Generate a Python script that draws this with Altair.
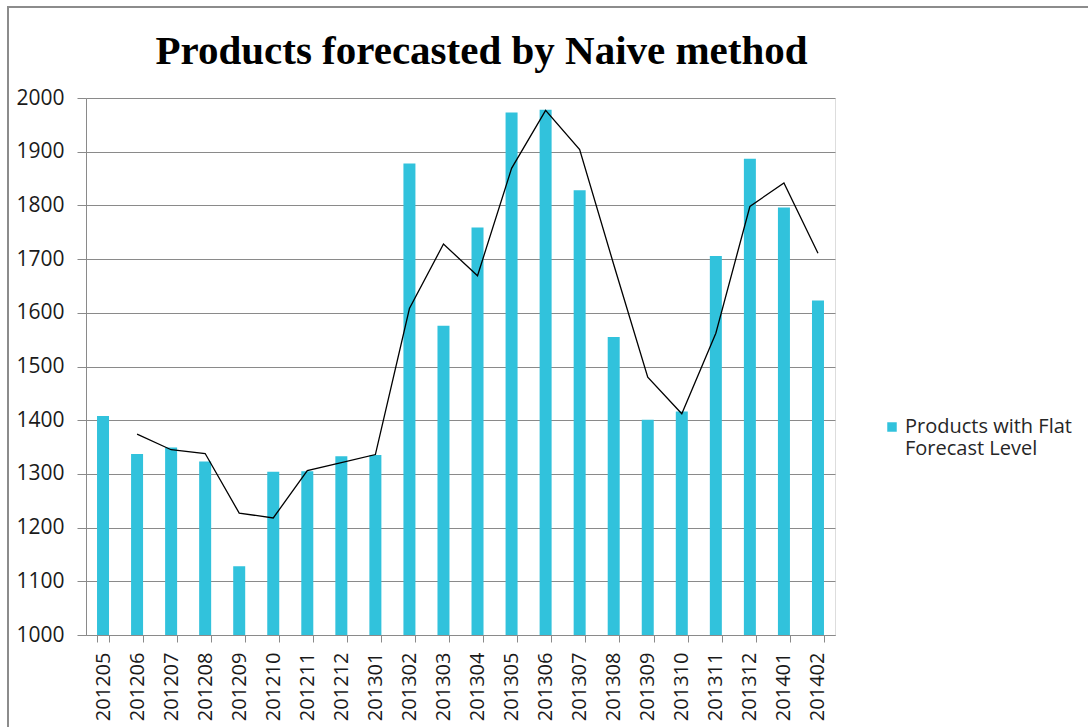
import altair as alt
import pandas as pd

# Monthly periods (YYYYMM)
periods = [
    "201205", "201206", "201207", "201208", "201209", "201210", "201211",
    "201212", "201301", "201302", "201303", "201304", "201305", "201306",
    "201307", "201308", "201309", "201310", "201311", "201312", "201401",
    "201402",
]

# Number of products with a flat forecast level per period
flat_products = [
    1408, 1337, 1349, 1323, 1128, 1304, 1305, 1333, 1335, 1878, 1576,
    1759, 1973, 1978, 1828, 1555, 1401, 1416, 1706, 1887, 1796, 1623,
]

# Two-period moving-average trend line (no value for the first period)
trend = [
    None, 1374, 1345, 1338, 1227, 1218, 1306, 1321, 1336, 1608, 1728,
    1669, 1869, 1977, 1904, 1690, 1480, 1412, 1562, 1798, 1842, 1711,
]

series_name = "Products with Flat Forecast Level"
y_ticks = [1000, 1100, 1200, 1300, 1400, 1500, 1600, 1700, 1800, 1900, 2000]

df = pd.DataFrame({
    "period": periods,
    "products": flat_products,
    "trend": trend,
    "series": series_name,
})

W, H = 749, 537
GRID = "#8a8a8a"
BAR = "#31C2DC"
FONT = "Open Sans"

x_enc = alt.X(
    "period:N",
    sort=periods,
    scale=alt.Scale(paddingInner=0.66, paddingOuter=0.33),
    axis=alt.Axis(
        title=None,
        labelAngle=270,
        labelAlign="right",
        labelBaseline="middle",
        labelFont=FONT,
        labelFontSize=20,
        labelColor="#1a1a1a",
        labelPadding=10,
        tickBand="extent",
        tickSize=7,
        tickColor=GRID,
        domainColor=GRID,
        grid=False,
    ),
)

y_scale = alt.Scale(domain=[1000, 2000], nice=False, zero=False)
y_axis = alt.Axis(
    title=None,
    values=y_ticks,
    format="d",
    labelFont=FONT,
    labelFontSize=21,
    labelColor="#1a1a1a",
    labelPadding=13,
    tickSize=9,
    tickColor=GRID,
    domainColor=GRID,
    gridColor=GRID,
    gridWidth=1,
)

bars = alt.Chart(df).mark_bar(size=12, color=BAR).encode(
    x=x_enc,
    y=alt.Y("products:Q", scale=y_scale, axis=y_axis),
    y2=alt.datum(1000),
    color=alt.Color(
        "series:N",
        scale=alt.Scale(range=[BAR]),
        legend=alt.Legend(
            title=None,
            orient="none",
            legendX=796,
            legendY=319,
            symbolType="square",
            symbolSize=90,
            symbolStrokeWidth=0,
            labelFont=FONT,
            labelFontSize=20,
            labelColor="#262626",
            labelLimit=300,
            labelExpr="['Products with Flat', 'Forecast Level']",
            labelBaseline="middle",
            labelOffset=3,
        ),
    ),
)

line = alt.Chart(df).mark_line(color="black", strokeWidth=1.3).encode(
    x=alt.X("period:N", sort=periods),
    y=alt.Y("trend:Q", scale=y_scale),
)

# Outer chart-area frame (left and top edges)
frame = alt.Chart(df).mark_rect(
    fill=None, stroke="#8c8c8c", strokeWidth=2, clip=False
).encode(
    x=alt.value(-78), x2=alt.value(W + 260),
    y=alt.value(-91), y2=alt.value(H + 120),
)

chart = (
    alt.layer(frame, bars, line)
    .properties(
        width=W,
        height=H,
        padding={"left": 86, "top": 98, "right": 1088 - 86 - W, "bottom": 727 - 98 - H},
        autosize=alt.AutoSizeParams(type="none"),
        title=alt.TitleParams(
            "Products forecasted by Naive method",
            font="Liberation Serif",
            fontSize=41,
            fontWeight="bold",
            color="black",
            anchor="middle",
            frame="group",
            baseline="alphabetic",
            dx=21,
            dy=99,
            offset=0,
        ),
    )
    .configure_view(stroke=None)
    .configure(background="white")
)

chart.save("out.html", embed_options={"renderer": "svg", "actions": False})
